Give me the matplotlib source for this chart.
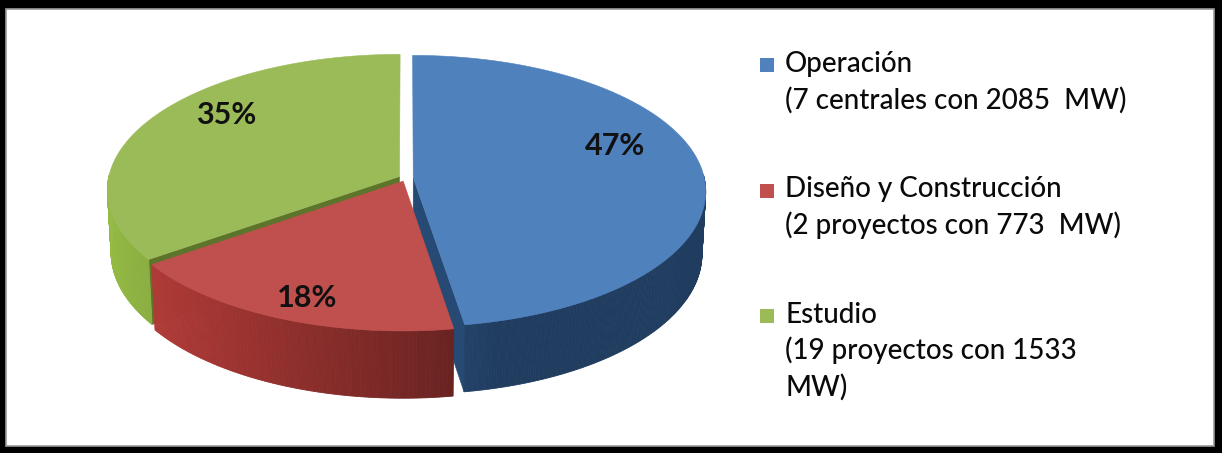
import numpy as np
import matplotlib
matplotlib.use("Agg")
import matplotlib.pyplot as plt
import colorsys
from matplotlib.patches import Polygon, Rectangle
from matplotlib.colors import to_rgb

# ---------------- data ----------------
categories = ["Operación", "Diseño y Construcción", "Estudio"]
details = ["(7 centrales con 2085  MW)", "(2 proyectos con 773  MW)",
           "(19 proyectos con 1533\nMW)"]
capacity_mw = [2085, 773, 1533]

# ---------------- style ----------------
colors = ["#4F81BD", "#C0504D", "#9BBB59"]
explode = [0.025, 0.025, 0.025]
label_nudge = [(0, -24), (-12, 24), (2, -20)]   # pixel nudges for % labels
FONT = ["Lato", "DejaVu Sans"]

W, H = 1222, 453
fig = plt.figure(figsize=(W / 100, H / 100), dpi=100, facecolor="black")
ax = fig.add_axes([0, 0, 1, 1])
ax.set_xlim(0, W)
ax.set_ylim(H, 0)
ax.axis("off")
ax.add_patch(Rectangle((6, 9), 1208, 437, facecolor="white",
                       edgecolor="#9a9a9a", lw=1.2, zorder=0))

# ---------------- 3D projection ----------------
CX, CY = 406, 178
S = 291
SA = 0.462
CA = np.sqrt(1 - SA ** 2)
DIST = 9.0
THICK = 0.245


def proj(X, Y, Z):
    X, Y, Z = np.broadcast_arrays(np.asarray(X, float), np.asarray(Y, float),
                                  np.asarray(Z, float))
    f = DIST / (DIST - (Y * CA + Z * SA))
    return np.column_stack([CX + S * f * X, CY + S * f * (Y * SA - Z * CA)])


def shade(color, factor, sat=1.1):
    h, l, s = colorsys.rgb_to_hls(*to_rgb(color))
    return colorsys.hls_to_rgb(h, min(1, max(0, l * factor)), min(1, s * sat))


def wall_factor(theta_rad):
    return float(np.clip(0.57 - 0.36 * np.sin(theta_rad), 0.48, 0.95))


vals = np.array(capacity_mw, float)
frac = vals / vals.sum()
bounds = np.concatenate([[0], np.cumsum(frac)]) * 360.0

slices = []
for i in range(len(vals)):
    t1, t2 = bounds[i], bounds[i + 1]
    mid = np.radians((t1 + t2) / 2)
    ox, oy = explode[i] * np.sin(mid), -explode[i] * np.cos(mid)
    slices.append((oy, i, t1, t2, mid, ox))

slices.sort()  # back to front

for oy, i, t1, t2, mid, ox in slices:
    col = colors[i]
    n = max(int(t2 - t1) * 2, 4)
    th = np.radians(np.linspace(t1, t2, n))
    rx = ox + np.sin(th)
    ry = oy - np.cos(th)

    # radial faces
    for t, visible in ((np.radians(t1), np.sin(np.radians(t1)) < -1e-6),
                       (np.radians(t2), np.sin(np.radians(t2)) > 1e-6)):
        if visible:
            px, py = ox + np.sin(t), oy - np.cos(t)
            pts = proj([ox, px, px, ox], [oy, py, py, oy], [0, 0, -THICK, -THICK])
            fc = shade(col, 0.58)
            ax.add_patch(Polygon(pts, closed=True, facecolor=fc, edgecolor=fc,
                                 lw=0.4, zorder=2))

    # outer wall (front-facing part)
    for k in range(n - 1):
        tm = 0.5 * (th[k] + th[k + 1])
        if np.cos(tm) > 0.02:
            continue
        pts = proj([rx[k], rx[k + 1], rx[k + 1], rx[k]],
                   [ry[k], ry[k + 1], ry[k + 1], ry[k]],
                   [0, 0, -THICK, -THICK])
        fc = shade(col, wall_factor(tm))
        ax.add_patch(Polygon(pts, closed=True, facecolor=fc, edgecolor=fc,
                             lw=0.6, zorder=2))

    # top face
    top = proj(np.concatenate([[ox], rx]), np.concatenate([[oy], ry]), 0)
    ax.add_patch(Polygon(top, closed=True, facecolor=col, edgecolor=col,
                         lw=0.4, zorder=2))

# percentage labels
for oy, i, t1, t2, mid, ox in slices:
    r = 0.7
    p = proj(ox + r * np.sin(mid), oy - r * np.cos(mid), 0)[0]
    dx, dy = label_nudge[i]
    ax.text(p[0] + dx, p[1] + dy, f"{round(100 * frac[i])}%", ha="center",
            va="center", fontsize=22, fontweight="bold", family=FONT,
            color="#111111", zorder=5)

# ---------------- legend ----------------
LEG_X, LEG_Y0, GROUP, LINE = 760, 72, 125.5, 36.5
for i, (cat, det) in enumerate(zip(categories, details)):
    base = LEG_Y0 + i * GROUP
    ax.add_patch(Rectangle((LEG_X, base - 14), 14, 14, facecolor=colors[i],
                           edgecolor="none", zorder=3))
    lines = [cat] + det.split("\n")
    for j, line in enumerate(lines):
        ax.text(LEG_X + 25, base + j * LINE, line, ha="left", va="baseline",
                fontsize=20, fontweight="medium", family=FONT,
                color="#0a0a0a", zorder=5)

fig.savefig("out.png", dpi=100, facecolor="black")
